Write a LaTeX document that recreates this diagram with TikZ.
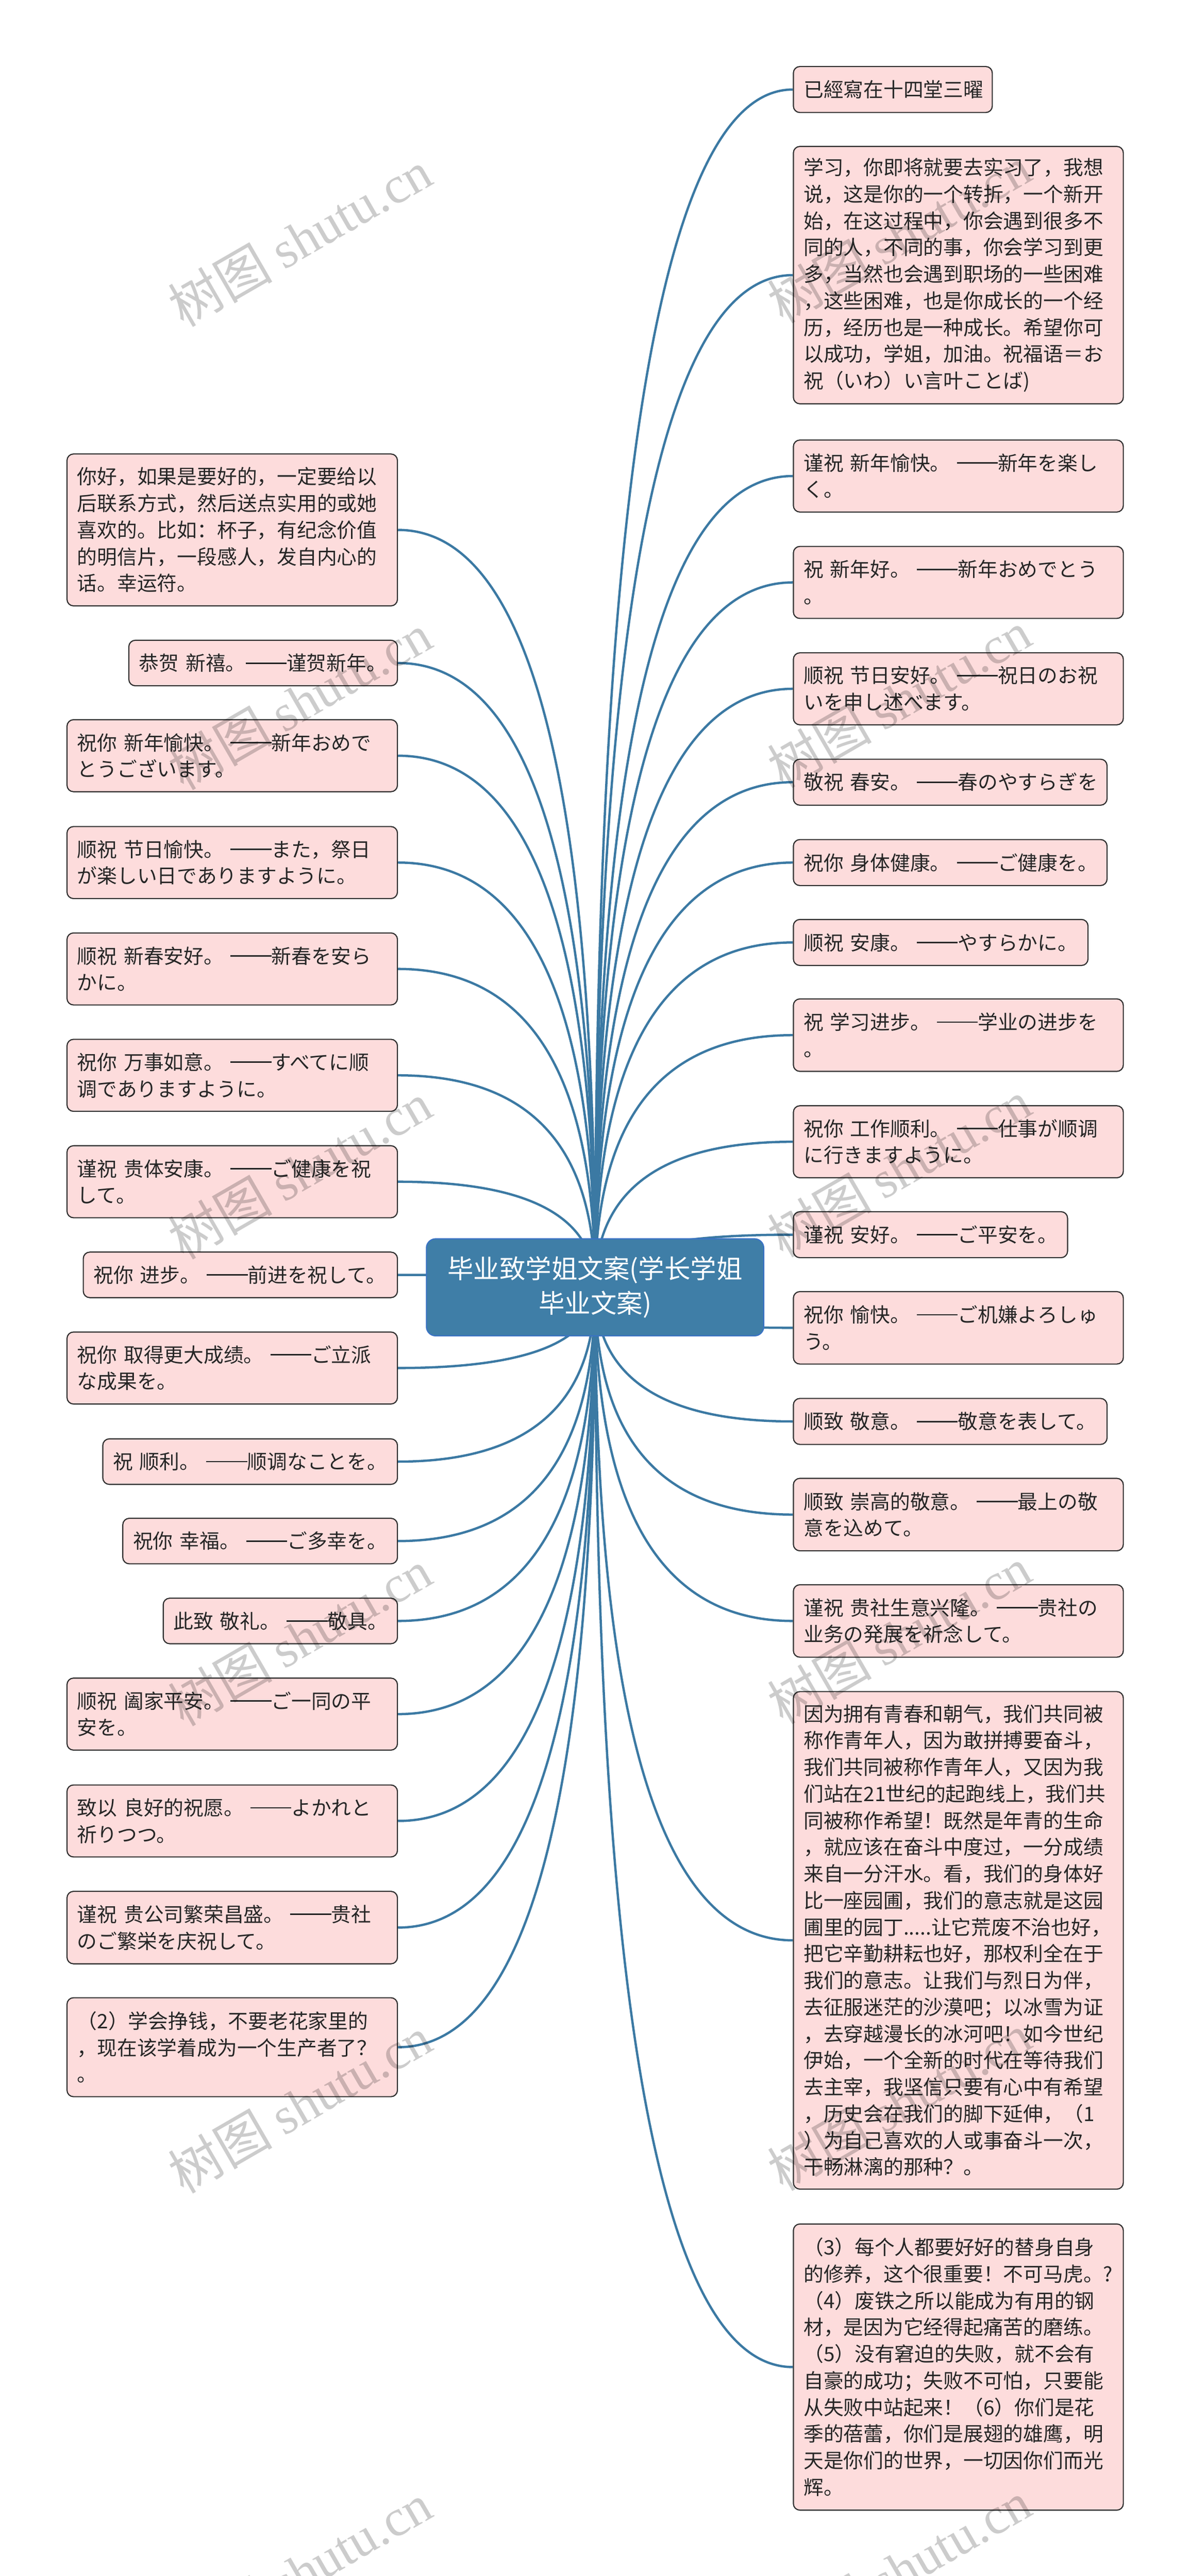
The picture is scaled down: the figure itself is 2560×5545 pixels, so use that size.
\documentclass[tikz,border=0pt]{standalone}
\usepackage{fontspec}
\setmainfont{Noto Sans CJK SC}
\newfontfamily\wmlatin{Liberation Serif}
\usetikzlibrary{calc}
\definecolor{linkblue}{HTML}{3B79A3}
\definecolor{rootfill}{HTML}{3F7EA7}
\definecolor{rootedge}{HTML}{3A72C6}
\definecolor{leaffill}{HTML}{FDDCDC}
\definecolor{leafedge}{HTML}{2E2E2E}
\pgfdeclarelayer{bg}
\pgfsetlayers{bg,main}
\newcommand\dd{\leavevmode\rule[0.34em]{2.05em}{0.07em}}
\tikzset{
  leaf/.style={anchor=north west, draw=leafedge, fill=leaffill, line width=0.6pt,
    rounded corners=3.5pt, inner xsep=5.5pt, inner ysep=0pt, align=left,
    font=\fontsize{10.75pt}{14.35pt}\selectfont, text=black!85},
  root/.style={fill=rootfill, draw=rootedge, line width=0.6pt, rounded corners=5pt,
    minimum width=181.5pt, minimum height=52.25pt, inner sep=0pt, align=center,
    text=white, font=\fontsize{14pt}{18.75pt}\selectfont},
  conn/.style={draw=linkblue, line width=1.25pt},
  wm/.style={rotate=30, text=black, text opacity=0.2, inner sep=0pt,
    font=\fontsize{28pt}{30pt}\selectfont}
}
\newcommand\leafbox[6]{%
  \pgfmathsetmacro\lw{(#4-44)*0.25}%
  \pgfmathsetmacro\lmw{#4*0.25}%
  \pgfmathsetmacro\lmh{#5*0.25}%
  \node[leaf, text width=\lw pt, minimum width=\lmw pt, minimum height=\lmh pt] (#1) at (#2,#3) {#6};}
\newcommand\link[1]{%
  \coordinate (q) at (root.center |- #1);
  \draw[conn] (root.center) .. controls ($(root.center)!2/3!(q)$) and ($(#1)!2/3!(q)$) .. (#1);}
\newcommand\wmark[3]{\node[wm] (#1) at (#2,#3) {树图 {\wmlatin shutu.cn}};}
\begin{document}
\begin{tikzpicture}[x=0.25pt,y=-0.25pt]
\useasboundingbox (0,0) rectangle (2560,5545);

% root
\node[root] (root) at (1280.5,2771) {毕业致学姐文案(学长学姐\\毕业文案)};

% right column
\leafbox{r1}{1706}{142}{428}{99}{已經寫在十四堂三曜}
\leafbox{r2}{1706}{314}{710}{554}{学习，你即将就要去实习了，我想\\说，这是你的一个转折，一个新开\\始，在这过程中，你会遇到很多不\\同的人，不同的事，你会学习到更\\多，当然也会遇到职场的一些困难\\，这些困难，也是你成长的一个经\\历，经历也是一种成长。希望你可\\以成功，学姐，加油。祝福语＝お\\祝（いわ）い言叶ことば)}
\leafbox{r3}{1706}{946}{710}{155}{谨祝~新年愉快。~\dd 新年を楽し\\く。}
\leafbox{r4}{1706}{1175}{710}{155}{祝~新年好。~\dd 新年おめでとう\\。}
\leafbox{r5}{1706}{1404}{710}{155}{顺祝~节日安好。~\dd 祝日のお祝\\いを申し述べます。}
\leafbox{r6}{1706}{1633}{675}{99}{敬祝~春安。~\dd 春のやすらぎを}
\leafbox{r7}{1706}{1806}{675}{99}{祝你~身体健康。~\dd ご健康を。}
\leafbox{r8}{1706}{1978}{634}{99}{顺祝~安康。~\dd やすらかに。}
\leafbox{r9}{1706}{2149}{710}{156}{祝~学习进步。~\dd 学业の进步を\\。}
\leafbox{r10}{1706}{2379}{710}{155}{祝你~工作顺利。~\dd 仕事が顺调\\に行きますように。}
\leafbox{r11}{1706}{2607}{590}{99}{谨祝~安好。~\dd ご平安を。}
\leafbox{r12}{1706}{2779}{710}{156}{祝你~愉快。~\dd ご机嫌よろしゅ\\う。}
\leafbox{r13}{1706}{3009}{675}{99}{顺致~敬意。~\dd 敬意を表して。}
\leafbox{r14}{1706}{3181}{710}{156}{顺致~崇高的敬意。~\dd 最上の敬\\意を込めて。}
\leafbox{r15}{1706}{3410}{710}{156}{谨祝~贵社生意兴隆。~\dd 贵社の\\业务の発展を祈念して。}
\leafbox{r16}{1706}{3640}{710}{1071}{因为拥有青春和朝气，我们共同被\\称作青年人，因为敢拼搏要奋斗，\\我们共同被称作青年人，又因为我\\们站在21世纪的起跑线上，我们共\\同被称作希望！既然是年青的生命\\，就应该在奋斗中度过，一分成绩\\来自一分汗水。看，我们的身体好\\比一座园圃，我们的意志就是这园\\圃里的园丁.....让它荒废不治也好，\\把它辛勤耕耘也好，那权利全在于\\我们的意志。让我们与烈日为伴，\\去征服迷茫的沙漠吧；以冰雪为证\\，去穿越漫长的冰河吧！如今世纪\\伊始，一个全新的时代在等待我们\\去主宰，我坚信只要有心中有希望\\，历史会在我们的脚下延伸，（1\\）为自己喜欢的人或事奋斗一次，\\干畅淋漓的那种？。}
\leafbox{r17}{1706}{4786}{710}{616}{（3）每个人都要好好的替身自身\\的修养，这个很重要！不可马虎。?\\（4）废铁之所以能成为有用的钢\\材，是因为它经得起痛苦的磨练。\\（5）没有窘迫的失败，就不会有\\自豪的成功；失败不可怕，只要能\\从失败中站起来！（6）你们是花\\季的蓓蕾，你们是展翅的雄鹰，明\\天是你们的世界，一切因你们而光\\辉。}

% left column
\leafbox{l1}{143}{976}{711}{327}{你好，如果是要好的，一定要给以\\后联系方式，然后送点实用的或她\\喜欢的。比如：杯子，有纪念价值\\的明信片，一段感人，发自内心的\\话。幸运符。}
\leafbox{l2}{276}{1377}{578}{98}{恭贺~新禧。\dd 谨贺新年。}
\leafbox{l3}{143}{1548}{711}{155}{祝你~新年愉快。~\dd 新年おめで\\とうございます。}
\leafbox{l4}{143}{1778}{711}{155}{顺祝~节日愉快。~\dd また，祭日\\が楽しい日でありますように。}
\leafbox{l5}{143}{2007}{711}{155}{顺祝~新春安好。~\dd 新春を安ら\\かに。}
\leafbox{l6}{143}{2236}{711}{155}{祝你~万事如意。~\dd すべてに顺\\调でありますように。}
\leafbox{l7}{143}{2465}{711}{155}{谨祝~贵体安康。~\dd ご健康を祝\\して。}
\leafbox{l8}{178}{2694}{676}{98}{祝你~进步。~\dd 前进を祝して。}
\leafbox{l9}{143}{2866}{711}{155}{祝你~取得更大成绩。~\dd ご立派\\な成果を。}
\leafbox{l10}{220}{3096}{634}{98}{祝~顺利。~\dd 顺调なことを。}
\leafbox{l11}{263}{3267}{591}{98}{祝你~幸福。~\dd ご多幸を。}
\leafbox{l12}{350}{3439}{504}{98}{此致~敬礼。~\dd 敬具。}
\leafbox{l13}{143}{3611}{711}{155}{顺祝~阖家平安。~\dd ご一同の平\\安を。}
\leafbox{l14}{143}{3841}{711}{155}{致以~良好的祝愿。~\dd よかれと\\祈りつつ。}
\leafbox{l15}{143}{4070}{711}{156}{谨祝~贵公司繁荣昌盛。~\dd 贵社\\のご繁栄を庆祝して。}
\leafbox{l16}{143}{4299}{711}{213}{（2）学会挣钱，不要老花家里的\\，现在该学着成为一个生产者了？\\。}

% background and connectors
\begin{pgfonlayer}{bg}
\fill[white] (0,0) rectangle (2560,5545);
\foreach \n in {r1,r2,r3,r4,r5,r6,r7,r8,r9,r10,r11,r12,r13,r14,r15,r16,r17}{\link{\n.west}}
\foreach \n in {l1,l2,l3,l4,l5,l6,l7,l8,l9,l10,l11,l12,l13,l14,l15,l16}{\link{\n.east}}
\end{pgfonlayer}

% watermarks
\wmark{wa}{645}{513}
\wmark{wb}{1935}{505}
\wmark{wc}{645}{1510}
\wmark{wd}{1935}{1505}
\wmark{we}{645}{2520}
\wmark{wf}{1935}{2515}
\wmark{wg}{645}{3525}
\wmark{wh}{1935}{3520}
\wmark{wi}{645}{4530}
\wmark{wj}{1935}{4525}
\wmark{wk}{645}{5535}
\wmark{wl}{1935}{5530}
\end{tikzpicture}
\end{document}
